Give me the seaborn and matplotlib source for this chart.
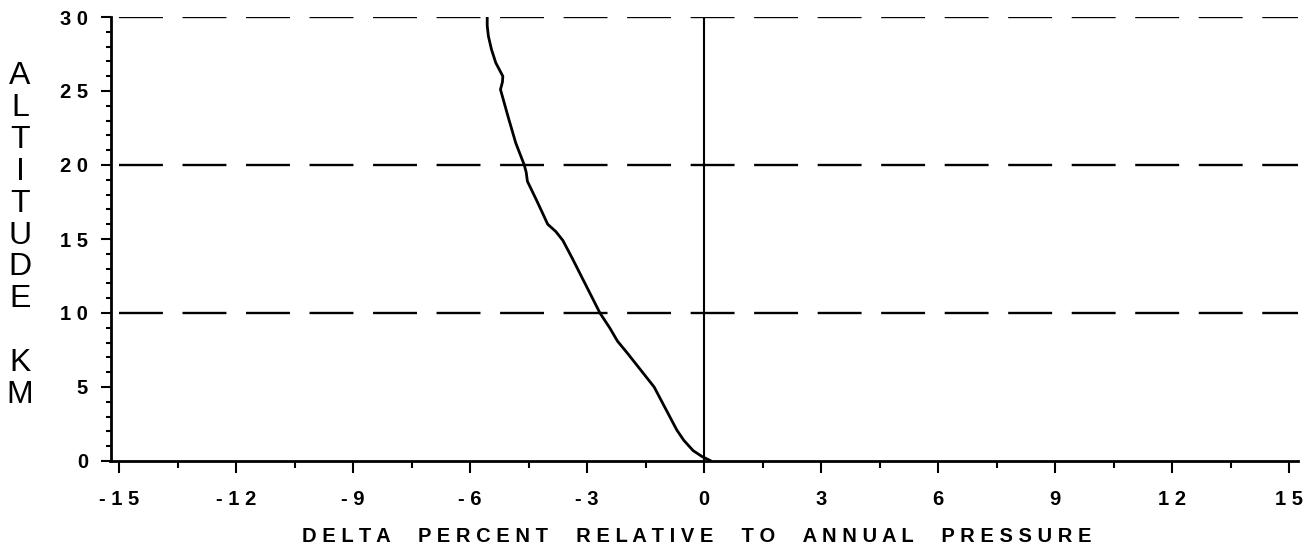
import matplotlib
matplotlib.use("Agg")
import matplotlib.pyplot as plt
import seaborn as sns
from matplotlib import font_manager as fm
from matplotlib.ticker import MultipleLocator

# ---- data ----
altitude_km = [0.0, 0.3, 0.7, 1.4, 2.1, 3.0, 4.0, 5.0, 6.4, 7.3, 8.1, 9.0,
               10.0, 11.2, 12.5, 13.7, 14.9, 15.5, 16.0, 16.8, 17.7, 18.9,
               19.5, 20.0, 21.5, 23.4, 25.1, 25.6, 26.0, 26.9, 27.8, 28.7,
               29.4, 30.0]
delta_percent = [0.18, -0.05, -0.28, -0.52, -0.70, -0.88, -1.08, -1.28, -1.70,
                 -1.97, -2.22, -2.42, -2.67, -2.90, -3.15, -3.38, -3.62, -3.80,
                 -4.01, -4.15, -4.31, -4.53, -4.56, -4.61, -4.83, -5.04, -5.22,
                 -5.17, -5.16, -5.34, -5.45, -5.53, -5.56, -5.56]
ref_altitudes = [10, 20, 30]
x_ticks = [-15, -12, -9, -6, -3, 0, 3, 6, 9, 12, 15]
x_tick_labels = ["- 1 5", "- 1 2", "- 9", "- 6", "- 3", "0", "3", "6", "9", "1 2", "1 5"]
y_ticks = [0, 5, 10, 15, 20, 25, 30]
y_tick_labels = ["0", "5", "1 0", "1 5", "2 0", "2 5", "3 0"]
x_label = "DELTA PERCENT RELATIVE TO ANNUAL PRESSURE"
y_label = "ALTITUDE KM"

sns.set_theme(style="white")


def pick(names):
    for n in names:
        try:
            fm.findfont(fm.FontProperties(family=n), fallback_to_default=False)
            return n
        except Exception:
            pass
    return "DejaVu Sans"


narrow = pick(["Liberation Sans Narrow", "Liberation Sans", "DejaVu Sans"])
plt.rcParams["font.family"] = [narrow, "DejaVu Sans"]

W, H = 1313, 557
fig = plt.figure(figsize=(W / 100, H / 100), dpi=100)
ax = fig.add_axes([110.5 / W, 1 - 461 / H, (1298 - 110.5) / W, (461 - 17) / H])

sns.lineplot(x=delta_percent, y=altitude_km, sort=False, estimator=None,
             color="black", lw=2.0, ax=ax)
ax.hlines(ref_altitudes, -15, 15.23, colors="black", lw=1.7,
          linestyles=[(0, (18.6, 8.3))])
ax.vlines(0, 0, 30, colors="black", lw=1.5)

ax.set_xlim(-15.22, 15.23)
ax.set_ylim(0, 30)
for s in ["top", "right"]:
    ax.spines[s].set_visible(False)
for s in ["left", "bottom"]:
    ax.spines[s].set_color("black")
    ax.spines[s].set_linewidth(2.0)

ax.set_xticks(x_ticks)
ax.set_xticklabels(x_tick_labels)
ax.set_yticks(y_ticks)
ax.set_yticklabels(y_tick_labels)
ax.xaxis.set_minor_locator(MultipleLocator(1.5))
ax.yaxis.set_minor_locator(MultipleLocator(1))
ax.tick_params(which="both", bottom=True, left=True, direction="out",
               color="black", labelcolor="black", width=1.5)
ax.tick_params(axis="x", which="major", length=8.6, pad=12, labelsize=14.5)
ax.tick_params(axis="x", which="minor", length=5)
ax.tick_params(axis="y", which="major", length=7.2, pad=9, labelsize=14.5)
ax.tick_params(axis="y", which="minor", length=3.6)
for t in ax.get_xticklabels() + ax.get_yticklabels():
    t.set_fontweight("bold")
ax.set_xlabel("")
ax.set_ylabel("")

spaced_x = "     ".join(" ".join(w) for w in x_label.split(" "))
fig.text(697 / W, 1 - 537 / H, spaced_x, ha="center", va="center",
         fontsize=14.5, fontweight="bold", color="black")
fig.text(20 / W, 1 - 235.5 / H, "\n".join(y_label), ha="center", va="center",
         fontsize=23, linespacing=1.08, color="black")

fig.savefig("out.png", dpi=100, facecolor="white")
